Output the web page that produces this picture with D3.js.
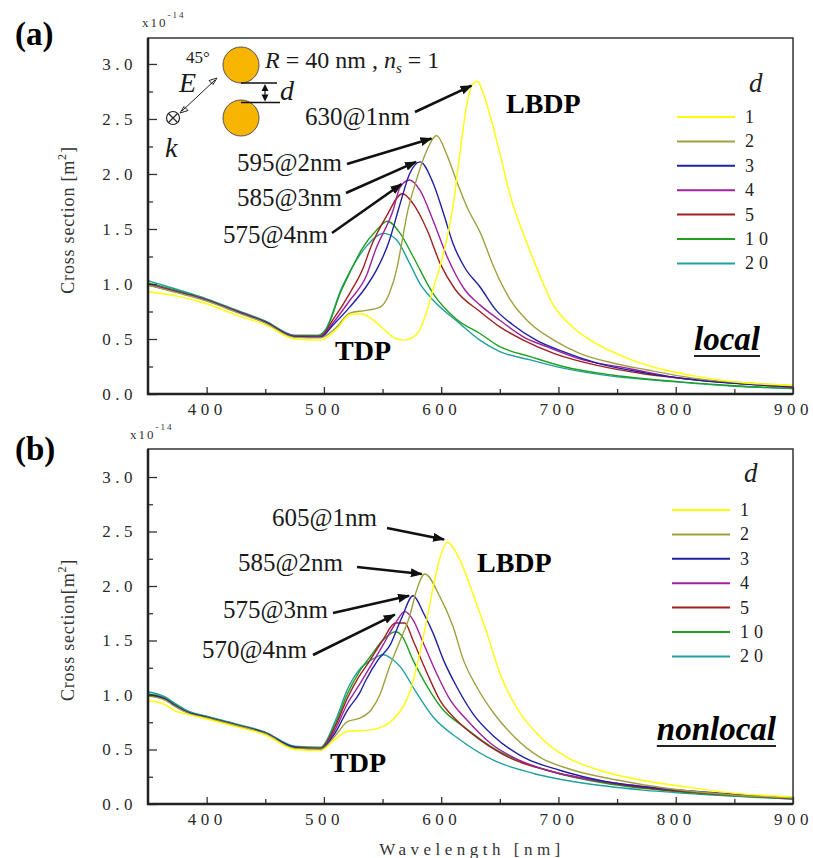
<!DOCTYPE html>
<html>
<head>
<meta charset="utf-8">
<script src="https://cdn.jsdelivr.net/npm/d3@7"></script>
<style>
  body { margin: 0; background: #fff; }
  svg { display: block; }
</style>
</head>
<body>
<div id="chart"></div>
<script>
// gap d (nm) of each curve and its colour
const gaps = ["1", "2", "3", "4", "5", "10", "20"];
const colors = ["#ffff00", "#a0a040", "#2020a0", "#a020a0", "#a02020", "#20a020", "#20a0a0"];

// axis ticks
const xTicks = [400, 500, 600, 700, 800, 900];
const xMinorTicks = [450, 550, 650, 750, 850];
const yTicks = [0, 0.5, 1.0, 1.5, 2.0, 2.5, 3.0];
const yMinorTicks = [0.25, 0.75, 1.25, 1.75, 2.25, 2.75];

// (a) local model: [wavelength nm, cross section x1e-14 m^2]
const local1 = [[350,.93],[375,.89],[400,.82],[425,.72],[450,.63],[475,.50],[497,.49],[510,.58],[522,.72],[531,.73],[540,.69],[550,.60],[560,.51],[568,.49],[575,.51],[581,.57],[588,.76],[593,.95],[600,1.20],[610,1.70],[616,2.19],[622,2.64],[627,2.82],[631,2.84],[636,2.73],[642,2.52],[650,2.19],[660,1.76],[670,1.46],[681,1.16],[695,.82],[712,.61],[732,.46],[760,.32],[790,.22],[818,.16],[860,.10],[900,.08]];
const local2 = [[350,.99],[375,.92],[400,.845],[425,.745],[450,.645],[475,.515],[497,.51],[510,.60],[522,.735],[536,.76],[548,.79],[556,.92],[562,1.13],[566,1.35],[571,1.64],[579,1.95],[588,2.22],[596,2.35],[605,2.17],[613,1.94],[622,1.70],[634,1.45],[645,1.15],[659,.855],[676,.64],[696,.49],[718,.37],[747,.28],[775,.22],[818,.14],[860,.10],[900,.075]];
const local3 = [[350,.99],[375,.925],[400,.85],[425,.75],[450,.65],[475,.52],[497,.515],[508,.63],[522,.79],[536,.975],[545,1.13],[555,1.37],[565,1.73],[573,2.0],[582,2.11],[593,1.92],[602,1.64],[610,1.37],[620,1.15],[633,.975],[647,.76],[661,.63],[681,.49],[704,.385],[733,.28],[775,.19],[818,.127],[860,.09],[900,.066]];
const local4 = [[350,1.0],[375,.93],[400,.855],[425,.755],[450,.655],[475,.525],[497,.52],[508,.65],[522,.85],[536,1.07],[544,1.31],[559,1.67],[565,1.88],[573,1.945],[582,1.85],[593,1.58],[605,1.25],[620,.95],[633,.81],[650,.67],[670,.52],[690,.43],[718,.32],[761,.23],[800,.15],[850,.10],[900,.065]];
const local5 = [[350,1.0],[375,.93],[400,.855],[425,.755],[450,.655],[475,.525],[497,.525],[508,.68],[522,.915],[534,1.16],[539,1.31],[553,1.61],[567,1.82],[576,1.73],[588,1.49],[599,1.19],[612,.95],[633,.75],[650,.61],[670,.49],[696,.37],[733,.26],[775,.18],[818,.13],[860,.09],[900,.06]];
const local10 = [[350,1.01],[375,.94],[400,.86],[425,.76],[450,.66],[475,.53],[495,.53],[501,.57],[515,.945],[521,1.08],[532,1.31],[545,1.49],[554,1.57],[565,1.46],[576,1.25],[593,.915],[613,.68],[633,.55],[650,.43],[676,.34],[704,.25],[747,.17],[804,.11],[850,.075],[900,.05]];
const local20 = [[350,1.03],[375,.95],[400,.865],[425,.765],[450,.665],[475,.535],[495,.535],[501,.58],[515,.96],[521,1.09],[536,1.34],[551,1.46],[562,1.40],[573,1.19],[582,1.0],[593,.855],[616,.64],[633,.49],[650,.385],[676,.31],[704,.235],[747,.16],[800,.11],[850,.07],[900,.05]];

// (b) nonlocal model
const nonlocal1 = [[350,.95],[365,.91],[372,.86],[385,.82],[400,.78],[425,.71],[450,.635],[475,.50],[497,.49],[510,.60],[520,.665],[540,.68],[548,.70],[555,.74],[562,.81],[568,.90],[574,1.05],[580,1.30],[587,1.65],[593,1.98],[599,2.26],[605,2.40],[616,2.24],[627,1.93],[639,1.57],[650,1.20],[664,.89],[684,.62],[707,.43],[735,.31],[770,.22],[806,.16],[849,.10],[900,.067]];
const nonlocal2 = [[350,.99],[365,.95],[372,.90],[385,.83],[400,.79],[425,.72],[450,.645],[475,.51],[497,.50],[510,.63],[520,.755],[530,.785],[540,.86],[548,1.01],[555,1.23],[565,1.50],[573,1.72],[579,1.96],[586,2.11],[599,1.90],[610,1.63],[619,1.32],[630,1.08],[645,.83],[662,.62],[684,.43],[713,.31],[750,.22],[792,.144],[849,.083],[900,.055]];
const nonlocal3 = [[350,1.0],[365,.96],[372,.91],[385,.835],[400,.795],[425,.725],[450,.65],[475,.52],[497,.50],[510,.66],[520,.86],[530,1.01],[536,1.14],[546,1.32],[556,1.45],[566,1.70],[576,1.91],[585,1.75],[593,1.57],[602,1.32],[613,1.08],[627,.83],[645,.62],[670,.43],[701,.31],[741,.205],[790,.14],[850,.09],[900,.055]];
const nonlocal4 = [[350,1.0],[365,.96],[372,.91],[385,.835],[400,.795],[425,.725],[450,.65],[475,.52],[497,.505],[510,.69],[520,.92],[530,1.09],[540,1.27],[550,1.45],[560,1.64],[569,1.765],[576,1.69],[585,1.47],[596,1.20],[608,.95],[622,.77],[642,.557],[667,.40],[701,.28],[750,.19],[800,.13],[850,.085],[900,.05]];
const nonlocal5 = [[350,1.0],[365,.96],[372,.91],[385,.835],[400,.795],[425,.725],[450,.65],[475,.52],[497,.51],[510,.72],[520,.97],[530,1.17],[537,1.28],[550,1.50],[561,1.66],[569,1.66],[576,1.50],[588,1.20],[599,.95],[613,.77],[633,.59],[659,.42],[690,.31],[740,.20],[800,.12],[850,.08],[900,.05]];
const nonlocal10 = [[350,1.01],[365,.97],[372,.92],[385,.84],[400,.80],[425,.73],[450,.655],[475,.525],[497,.515],[510,.74],[520,1.01],[530,1.21],[540,1.36],[550,1.50],[561,1.58],[566,1.55],[576,1.32],[588,1.08],[602,.86],[619,.71],[642,.53],[670,.38],[700,.28],[740,.19],[800,.115],[850,.075],[900,.045]];
const nonlocal20 = [[350,1.03],[365,.98],[372,.93],[385,.85],[400,.805],[425,.735],[450,.66],[475,.53],[497,.52],[510,.77],[520,1.05],[530,1.23],[540,1.32],[551,1.37],[558,1.33],[565,1.26],[579,1.02],[593,.80],[616,.59],[645,.40],[679,.28],[722,.19],[770,.13],[820,.09],[860,.065],[900,.045]];

// peak annotations
const localPeakLabels = ["630@1nm", "595@2nm", "585@3nm", "575@4nm"];
const nonlocalPeakLabels = ["605@1nm", "585@2nm", "575@3nm", "570@4nm"];

const W = 813, H = 858;
const plotLeft = 148, plotRight = 793;
const serif = "Liberation Serif, Times New Roman, serif";

const svg = d3.select("#chart").append("svg")
    .attr("width", W)
    .attr("height", H)
    .attr("font-family", serif);

svg.append("defs").append("marker")
    .attr("id", "head")
    .attr("markerUnits", "userSpaceOnUse")
    .attr("viewBox", "0 0 12 9")
    .attr("markerWidth", 12)
    .attr("markerHeight", 9)
    .attr("refX", 11)
    .attr("refY", 4.5)
    .attr("orient", "auto")
    .append("path")
    .attr("d", "M0,0 L12,4.5 L0,9 z")
    .attr("fill", "#111");

const panels = [
    {
        top: 38, bottom: 394, yMax: 3.236,
        series: [local1, local2, local3, local4, local5, local10, local20],
        tag: "(a)", tagY: 45, expX: 142, expY: 27,
        ylabel: "Cross section [m", ylabelY: 220,
        peaks: localPeakLabels,
        // label right end, baseline, arrow start, tip offset from the peak
        notes: [[410, 125, 415, 112, -6, 4], [342, 171, 347, 164, -5, 3], [342, 206, 346, 193, -4, 0], [328, 243, 332, 233, -8, 4]],
        lbdp: [506, 113], tdp: [335, 360],
        model: "local", modelPos: [760, 350],
        legendTop: 117, legendX: 677, dY: 92,
        inset: true, xTitle: false
    },
    {
        top: 449, bottom: 804, yMax: 3.257,
        series: [nonlocal1, nonlocal2, nonlocal3, nonlocal4, nonlocal5, nonlocal10, nonlocal20],
        tag: "(b)", tagY: 460, expX: 130, expY: 439,
        ylabel: "Cross section[m", ylabelY: 630,
        peaks: nonlocalPeakLabels,
        notes: [[377, 526, 387, 528, -3, -3], [343, 571, 357, 567, -3, 0], [328, 618, 333, 613, -4, 0], [307, 658, 313, 655, -10, 3]],
        lbdp: [477, 572], tdp: [330, 772],
        model: "nonlocal", modelPos: [776, 740],
        legendTop: 510, legendX: 672, dY: 482,
        inset: false, xTitle: true
    }
];

const x = d3.scaleLinear().domain([350, 900]).range([plotLeft, plotRight]);

panels.forEach(function(p, i) {
    const y = d3.scaleLinear().domain([0, p.yMax]).range([p.bottom, p.top]);
    const g = svg.append("g");

    // clip for the curves
    svg.select("defs").append("clipPath")
        .attr("id", "clip" + i)
        .append("rect")
        .attr("x", plotLeft).attr("y", p.top)
        .attr("width", plotRight - plotLeft).attr("height", p.bottom - p.top);

    // curves, drawn from d=20 up to d=1
    const line = d3.line()
        .x(function(d) { return x(d[0]); })
        .y(function(d) { return y(d[1]); })
        .curve(d3.curveMonotoneX);

    g.append("g")
        .attr("clip-path", "url(#clip" + i + ")")
        .selectAll("path")
        .data(p.series.map(function(s, k) { return { values: s, color: colors[k], k: k }; }).reverse())
        .enter()
        .append("path")
        .attr("d", function(d) { return line(d.values); })
        .attr("fill", "none")
        .attr("stroke", function(d) { return d.color; })
        .attr("stroke-width", 1.4);

    // x axis (ticks inside)
    const xAxis = g.append("g")
        .attr("transform", "translate(0," + p.bottom + ")")
        .call(d3.axisBottom(x).tickValues(xTicks).tickSize(-7).tickPadding(9).tickFormat(d3.format("d")));
    xAxis.append("g")
        .call(d3.axisBottom(x).tickValues(xMinorTicks).tickSize(-5).tickFormat(""));

    // y axis
    const yAxis = g.append("g")
        .attr("transform", "translate(" + plotLeft + ",0)")
        .call(d3.axisLeft(y).tickValues(yTicks).tickSize(-9).tickPadding(11).tickFormat(d3.format(".1f")));
    yAxis.append("g")
        .call(d3.axisLeft(y).tickValues(yMinorTicks).tickSize(-5).tickFormat(""));

    [xAxis, yAxis].forEach(function(a) {
        a.selectAll(".domain").remove();
        a.selectAll(".tick line").attr("stroke", "#333").attr("stroke-width", 1.3);
        a.attr("font-family", serif).attr("font-size", 17);
        a.selectAll("text").attr("fill", "#2a2a2a").style("letter-spacing", "4.5px");
    });

    // frame
    g.append("rect")
        .attr("x", plotLeft).attr("y", p.top)
        .attr("width", plotRight - plotLeft).attr("height", p.bottom - p.top)
        .attr("fill", "none").attr("stroke", "#333").attr("stroke-width", 1.5);
    g.append("path")
        .attr("d", "M" + plotLeft + "," + p.top + "V" + p.bottom + "H" + plotRight)
        .attr("fill", "none").attr("stroke", "#222").attr("stroke-width", 2.5);

    // panel tag and exponent
    g.append("text").attr("x", 15).attr("y", p.tagY)
        .attr("font-size", 33).attr("font-weight", "bold").text(p.tag);
    const ex = g.append("text").attr("x", p.expX).attr("y", p.expY)
        .attr("font-size", 13).attr("fill", "#333").style("letter-spacing", "2px");
    ex.append("tspan").text("x10");
    ex.append("tspan").attr("dy", -9).attr("font-size", 9).text("-14");

    // y label
    const yl = g.append("text")
        .attr("transform", "translate(74," + p.ylabelY + ") rotate(-90)")
        .attr("text-anchor", "middle")
        .attr("font-size", 18)
        .attr("fill", "#333")
        .style("letter-spacing", "0.8px");
    yl.append("tspan").text(p.ylabel);
    yl.append("tspan").attr("dy", -8).attr("font-size", 12).text("2");
    yl.append("tspan").attr("dy", 8).text("]");

    if (p.xTitle) {
        g.append("text")
            .attr("x", 472).attr("y", 855)
            .attr("text-anchor", "middle")
            .attr("font-size", 17)
            .attr("fill", "#333")
            .style("letter-spacing", "4.5px")
            .text("Wavelength [nm]");
    }

    // peak annotations with arrows
    p.notes.forEach(function(n, k) {
        const peak = d3.greatest(p.series[k], function(d) { return d[1]; });
        const tx = x(peak[0]) + n[4], ty = y(peak[1]) + n[5];
        g.append("line")
            .attr("x1", n[2]).attr("y1", n[3])
            .attr("x2", tx).attr("y2", ty)
            .attr("stroke", "#111").attr("stroke-width", 2.6)
            .attr("marker-end", "url(#head)");
        g.append("text")
            .attr("x", n[0]).attr("y", n[1])
            .attr("text-anchor", "end")
            .attr("font-size", 25)
            .attr("fill", "#1a1a1a")
            .text(p.peaks[k]);
    });

    g.append("text").attr("x", p.lbdp[0]).attr("y", p.lbdp[1])
        .attr("font-size", 28).attr("font-weight", "bold").text("LBDP");
    g.append("text").attr("x", p.tdp[0]).attr("y", p.tdp[1])
        .attr("font-size", 28).attr("font-weight", "bold").text("TDP");

    // model name, underlined
    const mt = g.append("text")
        .attr("x", p.modelPos[0]).attr("y", p.modelPos[1])
        .attr("text-anchor", "end")
        .attr("font-size", 33).attr("font-weight", "bold").attr("font-style", "italic")
        .text(p.model);
    const mw = mt.node().getComputedTextLength();
    g.append("line")
        .attr("x1", p.modelPos[0] - mw).attr("x2", p.modelPos[0])
        .attr("y1", p.modelPos[1] + 6).attr("y2", p.modelPos[1] + 6)
        .attr("stroke", "#222").attr("stroke-width", 2);

    // legend
    g.append("text").attr("x", p.legendX + 72).attr("y", p.dY)
        .attr("font-size", 27).attr("font-style", "italic").attr("fill", "#222").text("d");
    const leg = g.append("g").selectAll("g")
        .data(gaps)
        .enter()
        .append("g")
        .attr("transform", function(d, k) { return "translate(0," + (p.legendTop + k * 24.4) + ")"; });
    leg.append("line")
        .attr("x1", p.legendX).attr("x2", p.legendX + 58)
        .attr("stroke", function(d, k) { return colors[k]; })
        .attr("stroke-width", 2);
    leg.append("text")
        .attr("x", p.legendX + 68).attr("y", 6)
        .attr("font-size", 18).attr("fill", "#222")
        .style("letter-spacing", "5px")
        .text(function(d) { return d; });

    if (p.inset) drawInset(g);
});

// sketch of the dimer, field and gap in panel (a)
function drawInset(g) {
    const gold = "#f7b500";
    g.append("circle").attr("cx", 241).attr("cy", 65).attr("r", 18)
        .attr("fill", gold).attr("stroke", "#555").attr("stroke-width", 1);
    g.append("circle").attr("cx", 241).attr("cy", 118).attr("r", 18)
        .attr("fill", gold).attr("stroke", "#555").attr("stroke-width", 1);
    g.append("line").attr("x1", 241).attr("x2", 277).attr("y1", 83).attr("y2", 83)
        .attr("stroke", "#111").attr("stroke-width", 1.5);
    g.append("line").attr("x1", 241).attr("x2", 280).attr("y1", 102.5).attr("y2", 102.5)
        .attr("stroke", "#111").attr("stroke-width", 1.5);
    // gap arrows
    g.append("path").attr("d", "M265,84 l-3.5,7 h7 z M265,101.5 l-3.5,-7 h7 z").attr("fill", "#111");
    g.append("line").attr("x1", 265).attr("x2", 265).attr("y1", 88).attr("y2", 97)
        .attr("stroke", "#111").attr("stroke-width", 1.2);
    g.append("text").attr("x", 280).attr("y", 100)
        .attr("font-size", 28).attr("font-style", "italic").attr("fill", "#1a1a1a").text("d");

    // polarisation arrow
    g.append("line").attr("x1", 182).attr("y1", 111).attr("x2", 215).attr("y2", 80)
        .attr("stroke", "#222").attr("stroke-width", 1);
    g.append("path").attr("d", "M217,78 l-8,2.5 l4,4 z M180,113 l8,-2.5 l-4,-4 z")
        .attr("fill", "none").attr("stroke", "#222").attr("stroke-width", 1);
    g.append("text").attr("x", 179).attr("y", 92)
        .attr("font-size", 28).attr("font-style", "italic").attr("fill", "#1a1a1a").text("E");
    g.append("text").attr("x", 186).attr("y", 63)
        .attr("font-size", 17).attr("fill", "#1a1a1a").text("45°");

    // wave vector into the page
    g.append("circle").attr("cx", 173).attr("cy", 118).attr("r", 6.5)
        .attr("fill", "none").attr("stroke", "#222").attr("stroke-width", 1.2);
    g.append("path").attr("d", "M168.5,113.5 L177.5,122.5 M177.5,113.5 L168.5,122.5")
        .attr("stroke", "#222").attr("stroke-width", 1.2);
    g.append("text").attr("x", 165).attr("y", 157)
        .attr("font-size", 28).attr("font-style", "italic").attr("fill", "#1a1a1a").text("k");

    const t = g.append("text").attr("x", 265).attr("y", 68).attr("font-size", 24).attr("fill", "#1a1a1a");
    t.append("tspan").attr("font-style", "italic").text("R");
    t.append("tspan").text(" = 40 nm , ");
    t.append("tspan").attr("font-style", "italic").text("n");
    t.append("tspan").attr("font-style", "italic").attr("font-size", 15).attr("dy", 5).text("s");
    t.append("tspan").attr("dy", -5).text(" = 1");
}
</script>
</body>
</html>
